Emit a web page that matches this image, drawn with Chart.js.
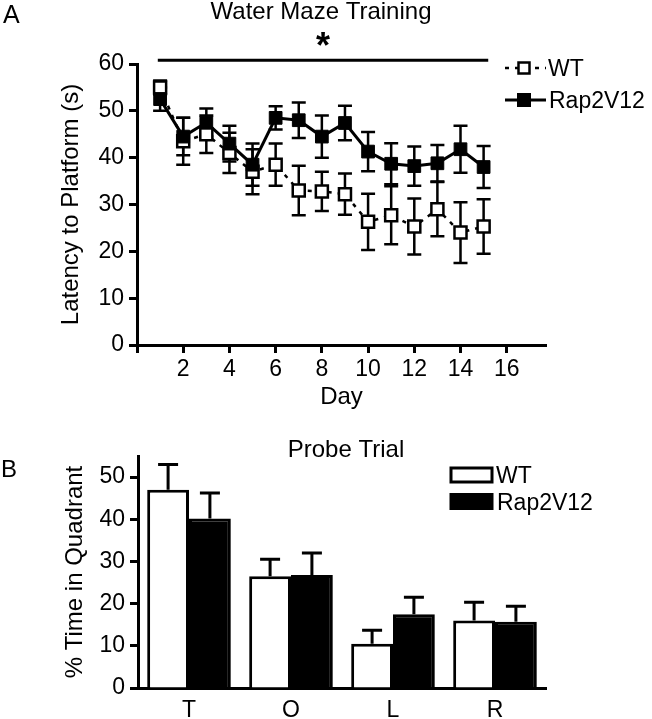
<!DOCTYPE html>
<html>
<head>
<meta charset="utf-8">
<title>Water Maze Training / Probe Trial</title>
<script src="https://cdn.jsdelivr.net/npm/chart.js@4.4.1/dist/chart.umd.min.js"></script>
<style>
  html, body { margin: 0; padding: 0; background: #fff; }
  #wrap { position: relative; width: 652px; height: 719px; overflow: hidden; }
  #chartA { position: absolute; left: 0; top: 0; }
  #chartB { position: absolute; left: 0; top: 420px; }
</style>
</head>
<body>
<div id="wrap">
  <canvas id="chartA" width="652" height="420"></canvas>
  <canvas id="chartB" width="652" height="299"></canvas>
</div>
<script>
// ---- panel A: water maze training (mean ± SEM per day) ----
const days = [1, 2, 3, 4, 5, 6, 7, 8, 9, 10, 11, 12, 13, 14, 15];
const wtLatency = [55, 43.5, 45, 41, 37, 38.5, 33, 32.8, 32.2, 26.3, 27.7, 25.3, 29, 24, 25.3];
const wtLatencyErr = [1.5, 5, 4, 4.3, 4.8, 4.5, 5.3, 4.2, 4.4, 6, 6.2, 6, 5.8, 6.5, 5.8];
const rapLatency = [52.5, 44.5, 47.5, 43, 38.5, 48.5, 48, 44.5, 47.4, 41.3, 38.7, 38.2, 38.8, 41.8, 38];
const rapLatencyErr = [2.5, 4, 3, 3.8, 4.5, 2.5, 3.8, 4.5, 3.7, 4.2, 4.4, 4.2, 3.9, 5, 4.5];
const dayTicks = [0, 2, 4, 6, 8, 10, 12, 14, 16];
const latencyTicks = [0, 10, 20, 30, 40, 50, 60];
const sigSpan = [0.9, 15.2]; // days covered by the "*" bar

// ---- panel B: probe trial ----
const quadrants = ['T', 'O', 'L', 'R'];
const wtProbe = [47, 26.5, 10.5, 16];
const wtProbeErr = [6, 4, 3.2, 4.3];
const rapProbe = [40.2, 26.8, 17.5, 15.7];
const rapProbeErr = [6, 5.2, 4, 3.7];
const probeTicks = [0, 10, 20, 30, 40, 50];

const FONT = '"Liberation Sans", Arial, Helvetica, sans-serif';
Chart.defaults.font.family = FONT;
Chart.defaults.color = '#000';

function text(ctx, str, x, y, size, align, weight) {
  ctx.save();
  ctx.font = (weight || 'normal') + ' ' + size + 'px ' + FONT;
  ctx.fillStyle = '#000';
  ctx.textAlign = align || 'left';
  ctx.textBaseline = 'alphabetic';
  ctx.fillText(str, x, y);
  ctx.restore();
}

function square(ctx, cx, cy, side, fill, lw) {
  ctx.fillStyle = fill;
  ctx.fillRect(cx - side / 2, cy - side / 2, side, side);
  ctx.lineWidth = lw;
  ctx.strokeStyle = '#000';
  ctx.strokeRect(cx - side / 2, cy - side / 2, side, side);
}

// error bars (both ways) behind the markers
const lineErrorBars = {
  id: 'lineErrorBars',
  beforeDatasetsDraw(chart) {
    const { ctx, scales: { y } } = chart;
    chart.data.datasets.forEach((ds, di) => {
      const meta = chart.getDatasetMeta(di);
      ctx.save();
      ctx.strokeStyle = '#000';
      ctx.lineWidth = 2.5;
      meta.data.forEach((pt, i) => {
        const v = ds.data[i].y, e = ds.errors[i];
        const top = y.getPixelForValue(v + e), bot = y.getPixelForValue(v - e);
        ctx.beginPath();
        ctx.moveTo(pt.x, top); ctx.lineTo(pt.x, bot);
        ctx.moveTo(pt.x - 7, top); ctx.lineTo(pt.x + 7, top);
        ctx.moveTo(pt.x - 7, bot); ctx.lineTo(pt.x + 7, bot);
        ctx.stroke();
      });
      ctx.restore();
    });
  }
};

const decorA = {
  id: 'decorA',
  afterDraw(chart) {
    const { ctx, scales: { x, y } } = chart;
    text(ctx, 'A', 3, 23, 25);
    text(ctx, 'Water Maze Training', 321, 19, 24, 'center');

    // significance bar
    const x0 = x.getPixelForValue(sigSpan[0]), x1 = x.getPixelForValue(sigSpan[1]);
    const ly = y.getPixelForValue(60.8);
    ctx.save();
    ctx.strokeStyle = '#000';
    ctx.lineWidth = 3;
    ctx.beginPath(); ctx.moveTo(x0, ly); ctx.lineTo(x1, ly); ctx.stroke();
    ctx.restore();
    text(ctx, '*', (x0 + x1) / 2, ly - 2, 36, 'center', 'bold');

    // legend
    const [rap, wt] = chart.data.datasets;
    const lx0 = 505, lx1 = 546, lcx = 524;
    ctx.save();
    ctx.strokeStyle = '#000';
    ctx.lineWidth = wt.borderWidth;
    ctx.setLineDash(wt.borderDash);
    ctx.beginPath(); ctx.moveTo(lx0, 68); ctx.lineTo(lx1, 68); ctx.stroke();
    ctx.setLineDash([]);
    square(ctx, lcx, 68, 11, wt.pointBackgroundColor, 2.5);
    ctx.lineWidth = rap.borderWidth;
    ctx.beginPath(); ctx.moveTo(lx0, 100); ctx.lineTo(lx1, 100); ctx.stroke();
    square(ctx, lcx, 100, 13, rap.pointBackgroundColor, 1);
    ctx.restore();
    text(ctx, wt.label, 548, 76, 23);
    text(ctx, rap.label, 549, 108, 23);
  }
};

new Chart(document.getElementById('chartA'), {
  type: 'line',
  data: {
    datasets: [
      {
        label: 'Rap2V12',
        data: days.map((d, i) => ({ x: d, y: rapLatency[i] })),
        errors: rapLatencyErr,
        borderColor: '#000',
        borderWidth: 3,
        pointStyle: 'rect',
        pointRadius: 9,
        pointBackgroundColor: '#000',
        pointBorderColor: '#000',
        pointBorderWidth: 1,
        tension: 0,
        clip: false,
        order: 0
      },
      {
        label: 'WT',
        data: days.map((d, i) => ({ x: d, y: wtLatency[i] })),
        errors: wtLatencyErr,
        borderColor: '#000',
        borderWidth: 2.5,
        borderDash: [4, 6],
        pointStyle: 'rect',
        pointRadius: 8.5,
        pointBackgroundColor: '#fff',
        pointBorderColor: '#000',
        pointBorderWidth: 2.5,
        tension: 0,
        clip: false,
        order: 1
      }
    ]
  },
  options: {
    responsive: false,
    animation: false,
    events: [],
    layout: { padding: { top: 64, right: 106, left: 0, bottom: 0 } },
    plugins: { legend: { display: false }, tooltip: { enabled: false } },
    scales: {
      x: {
        type: 'linear',
        min: 0,
        max: 17.7,
        afterBuildTicks: s => { s.ticks = dayTicks.map(v => ({ value: v })); },
        afterFit: s => { s.height = 75; },
        grid: { drawOnChartArea: false, drawTicks: true, tickLength: 8, tickWidth: 3, tickColor: '#000' },
        border: { display: true, color: '#000', width: 3 },
        ticks: { font: { size: 23 }, color: '#000', padding: 3, maxRotation: 0,
                 callback: v => v === 0 ? '' : v },
        title: { display: true, text: 'Day', font: { size: 24 }, color: '#000', padding: { top: 0, bottom: 8 } }
      },
      y: {
        min: 0,
        max: 60,
        afterBuildTicks: s => { s.ticks = latencyTicks.map(v => ({ value: v })); },
        afterFit: s => { s.width = 137; },
        grid: { drawOnChartArea: false, drawTicks: true, tickLength: 8, tickWidth: 3, tickColor: '#000' },
        border: { display: true, color: '#000', width: 3 },
        ticks: { font: { size: 23 }, color: '#000', padding: 5 },
        title: { display: true, text: 'Latency to Platform (s)', font: { size: 24 }, color: '#000', padding: { top: 57, bottom: 0 } }
      }
    }
  },
  plugins: [lineErrorBars, decorA]
});

// upward-only error bars on the bars
const barErrorBars = {
  id: 'barErrorBars',
  afterDatasetsDraw(chart) {
    const { ctx, scales: { y } } = chart;
    chart.data.datasets.forEach((ds, di) => {
      const meta = chart.getDatasetMeta(di);
      ctx.save();
      ctx.strokeStyle = '#000';
      ctx.lineWidth = 3;
      meta.data.forEach((bar, i) => {
        const v = ds.data[i], e = ds.errors[i];
        const base = y.getPixelForValue(v), top = y.getPixelForValue(v + e);
        ctx.beginPath();
        ctx.moveTo(bar.x, base); ctx.lineTo(bar.x, top);
        ctx.moveTo(bar.x - 10, top); ctx.lineTo(bar.x + 10, top);
        ctx.stroke();
      });
      ctx.restore();
    });
  }
};

const decorB = {
  id: 'decorB',
  afterDraw(chart) {
    const { ctx } = chart;
    text(ctx, 'B', 1, 57, 24);
    text(ctx, 'Probe Trial', 346, 37, 24, 'center');
    const [wt, rap] = chart.data.datasets;
    ctx.save();
    ctx.fillStyle = wt.backgroundColor;
    ctx.fillRect(451, 48, 41, 14);
    ctx.lineWidth = 3;
    ctx.strokeStyle = '#000';
    ctx.strokeRect(451, 48, 41, 14);
    ctx.fillStyle = rap.backgroundColor;
    ctx.fillRect(449.5, 73, 44, 17);
    ctx.restore();
    text(ctx, wt.label, 496, 63, 23);
    text(ctx, rap.label, 497, 90, 23);
  }
};

new Chart(document.getElementById('chartB'), {
  type: 'bar',
  data: {
    labels: quadrants,
    datasets: [
      { label: 'WT', data: wtProbe, errors: wtProbeErr, backgroundColor: '#fff', borderColor: '#000', borderWidth: 3 },
      { label: 'Rap2V12', data: rapProbe, errors: rapProbeErr, backgroundColor: '#000', borderColor: '#000', borderWidth: 3 }
    ]
  },
  options: {
    responsive: false,
    animation: false,
    events: [],
    categoryPercentage: 0.82,
    barPercentage: 1,
    layout: { padding: { top: 36, right: 106, left: 0, bottom: 0 } },
    plugins: { legend: { display: false }, tooltip: { enabled: false } },
    scales: {
      x: {
        afterFit: s => { s.height = 31; },
        grid: { display: false, drawTicks: false },
        border: { display: true, color: '#000', width: 3 },
        ticks: { font: { size: 23 }, color: '#000', padding: 9 }
      },
      y: {
        min: 0,
        max: 55,
        afterBuildTicks: s => { s.ticks = probeTicks.map(v => ({ value: v })); },
        afterFit: s => { s.width = 138; },
        grid: { drawOnChartArea: false, drawTicks: true, tickLength: 8, tickWidth: 3, tickColor: '#000' },
        border: { display: true, color: '#000', width: 3 },
        ticks: { font: { size: 23 }, color: '#000', padding: 5 },
        title: { display: true, text: '% Time in Quadrant', font: { size: 24 }, color: '#000', padding: { top: 61, bottom: 0 } }
      }
    }
  },
  plugins: [barErrorBars, decorB]
});
</script>
</body>
</html>
